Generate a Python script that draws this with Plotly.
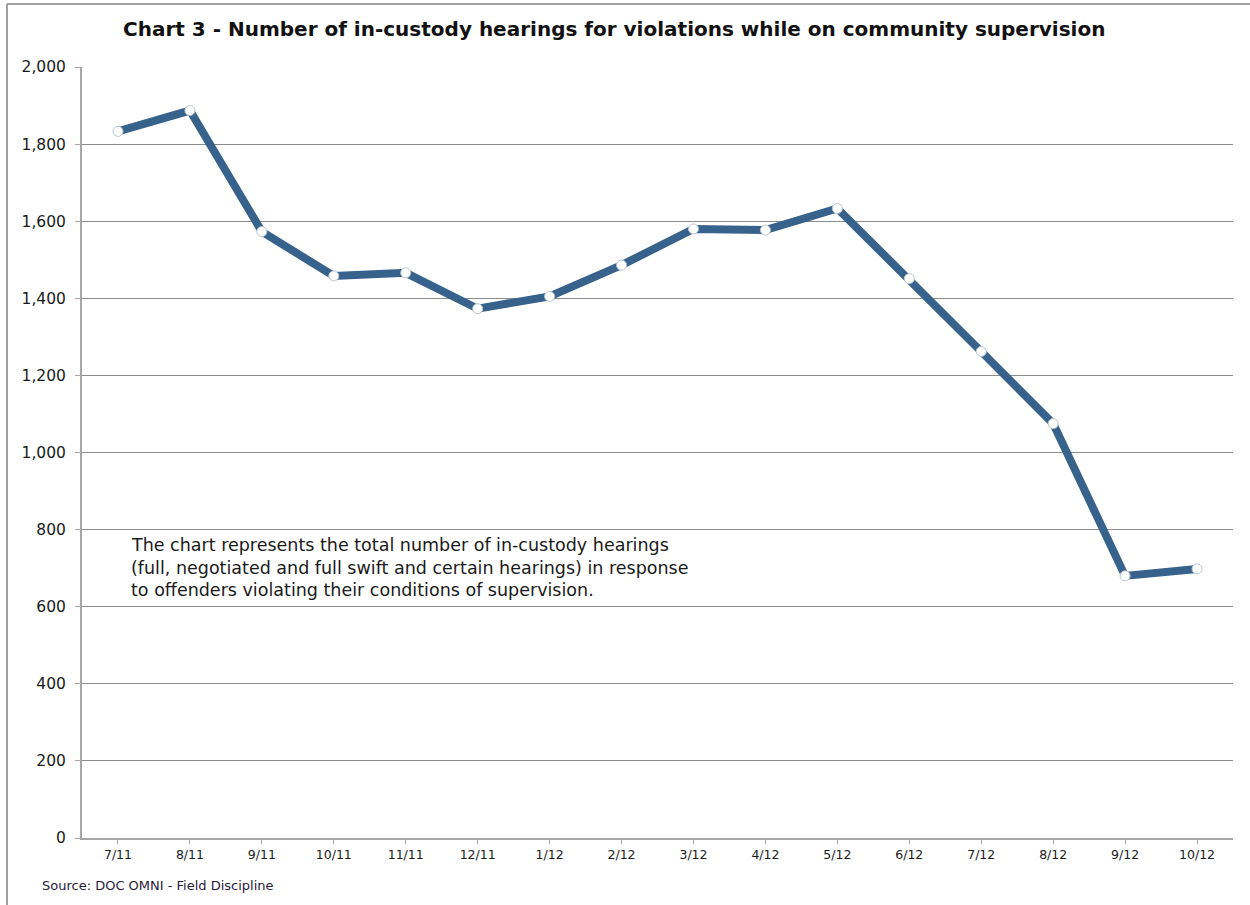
import plotly.graph_objects as go

# Monthly in-custody hearings, July 2011 - October 2012
months = ["7/11", "8/11", "9/11", "10/11", "11/11", "12/11", "1/12", "2/12",
          "3/12", "4/12", "5/12", "6/12", "7/12", "8/12", "9/12", "10/12"]
hearings = [1833, 1887, 1573, 1458, 1466, 1373, 1405, 1486,
            1580, 1577, 1633, 1451, 1262, 1075, 680, 698]
y_ticks = [0, 200, 400, 600, 800, 1000, 1200, 1400, 1600, 1800, 2000]

title_text = "Chart 3 - Number of in-custody hearings for violations while on community supervision"
note_lines = [
    "The chart represents the total number of in-custody hearings",
    "(full, negotiated and full swift and certain hearings) in response",
    "to offenders violating their conditions of supervision.",
]
source_text = "Source: DOC OMNI - Field Discipline"

W, H = 1250, 905
L, R, T, B = 82, 17, 67, 67
pw, ph = W - L - R, H - T - B


def px_x(px):
    return (px - L) / pw


def px_y(py):
    return (H - B - py) / ph


fig = go.Figure()
fig.add_trace(go.Scatter(
    x=list(range(len(months))), y=hearings, mode="lines+markers",
    line=dict(color="#36628c", width=8),
    marker=dict(size=10, color="white", line=dict(color="#b8c4d0", width=1)),
    showlegend=False, hoverinfo="x+y",
))

axis_gray = "#a6a6a6"
fig.update_xaxes(
    range=[-0.5, len(months) - 0.5],
    tickmode="array", tickvals=list(range(len(months))), ticktext=months,
    tickson="boundaries", ticks="outside", ticklen=4, tickcolor=axis_gray,
    showline=True, linecolor=axis_gray, linewidth=2,
    showgrid=False, zeroline=False,
    tickfont=dict(family="DejaVu Sans", size=12.5, color="#1a1a1a"),
)
fig.update_yaxes(
    range=[0, 2000], tickmode="array", tickvals=y_ticks,
    ticktext=[f"{v:,}" for v in y_ticks],
    ticks="outside", ticklen=5, tickcolor=axis_gray,
    showline=True, linecolor=axis_gray, linewidth=2,
    showgrid=True, gridcolor="#8c8c8c", gridwidth=1, zeroline=False,
    ticklabelstandoff=6,
    tickfont=dict(family="DejaVu Sans", size=15.5, color="#1a1a1a"),
)

annotations = [
    dict(text=f"<b>{title_text}</b>", x=px_x(614), y=px_y(29),
         xanchor="center", yanchor="middle",
         font=dict(family="DejaVu Sans", size=20, color="#111111")),
    dict(text=source_text, x=px_x(40), y=px_y(885),
         xanchor="left", yanchor="middle",
         font=dict(family="DejaVu Sans", size=13, color="#2a1a3a")),
]
for i, line in enumerate(note_lines):
    annotations.append(dict(
        text=line, x=px_x(129), y=px_y(545 + 22.5 * i),
        xanchor="left", yanchor="middle",
        font=dict(family="DejaVu Sans", size=17.5, color="#1a1a1a")))
for a in annotations:
    a.update(xref="paper", yref="paper", showarrow=False)

# Outer chart frame (top and left edges visible)
frame = dict(color="#a0a0a0", width=2)
shapes = [
    dict(type="line", xref="paper", yref="paper",
         x0=px_x(7), x1=px_x(W + 10), y0=px_y(4), y1=px_y(4), line=frame),
    dict(type="line", xref="paper", yref="paper",
         x0=px_x(7), x1=px_x(7), y0=px_y(4), y1=px_y(H + 10), line=frame),
]

fig.update_layout(
    width=W, height=H, autosize=False,
    margin=dict(l=L, r=R, t=T, b=B),
    paper_bgcolor="white", plot_bgcolor="white",
    annotations=annotations, shapes=shapes,
)

fig.write_html("out.html")
